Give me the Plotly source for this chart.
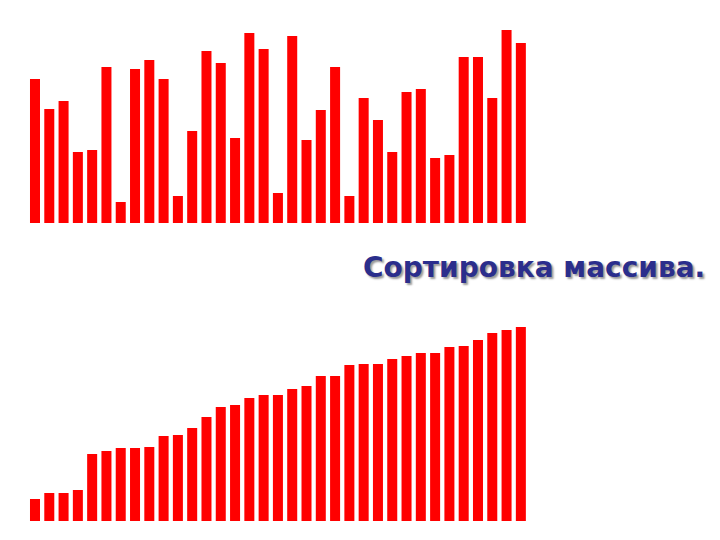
import plotly.graph_objects as go

# Unsorted array (top chart)
positions = list(range(1, 36))
values_unsorted = [144, 114, 122, 71, 73, 156, 21, 154, 163, 144,
                   27, 92, 172, 160, 85, 190, 174, 30, 187, 83,
                   113, 156, 27, 125, 103, 71, 131, 134, 65, 68,
                   166, 166, 125, 193, 180]
# Sorted array (bottom chart)
values_sorted = [22, 28, 28, 31, 67, 70, 73, 73, 74, 85,
                 86, 93, 104, 114, 116, 123, 126, 126, 132, 135,
                 145, 145, 156, 157, 157, 162, 165, 168, 168, 174,
                 175, 181, 188, 191, 194]
title_text = "Сортировка массива."

W, H = 720, 540
OFF = 8  # page body margin in the browser
fig = go.Figure()
fig.add_trace(go.Bar(x=positions, y=values_unsorted, marker=dict(color="#FF0000", line=dict(width=0)),
                     xaxis="x", yaxis="y", showlegend=False, hoverinfo="skip"))
fig.add_trace(go.Bar(x=positions, y=values_sorted, marker=dict(color="#FF0000", line=dict(width=0)),
                     xaxis="x2", yaxis="y2", showlegend=False, hoverinfo="skip"))

def px_x(p):
    return (p - OFF) / W

def px_y(p):
    return 1 - (p - OFF) / H

xdom = [px_x(27.85), px_x(528.0)]
ax_common = dict(showgrid=False, zeroline=False, showline=False, showticklabels=False, ticks="")
fig.update_layout(
    width=W, height=H,
    margin=dict(l=0, r=0, t=0, b=0),
    paper_bgcolor="white", plot_bgcolor="white",
    bargap=0.3,
    xaxis=dict(domain=xdom, range=[0.5, 35.5], anchor="y", **ax_common),
    yaxis=dict(domain=[px_y(223), px_y(23)], range=[0, 200], anchor="x", **ax_common),
    xaxis2=dict(domain=xdom, range=[0.5, 35.5], anchor="y2", **ax_common),
    yaxis2=dict(domain=[px_y(521), px_y(321)], range=[0, 200], anchor="x2", **ax_common),
    annotations=[dict(
        text="<b>" + title_text + "</b>", xref="paper", yref="paper",
        x=px_x(534), y=px_y(268), xanchor="center", yanchor="middle", showarrow=False,
        font=dict(family="DejaVu Sans", size=28, color="#2B2E8C", shadow="2px 2px 2px #9a9a9a"),
    )],
)
fig.write_html("out.html")
